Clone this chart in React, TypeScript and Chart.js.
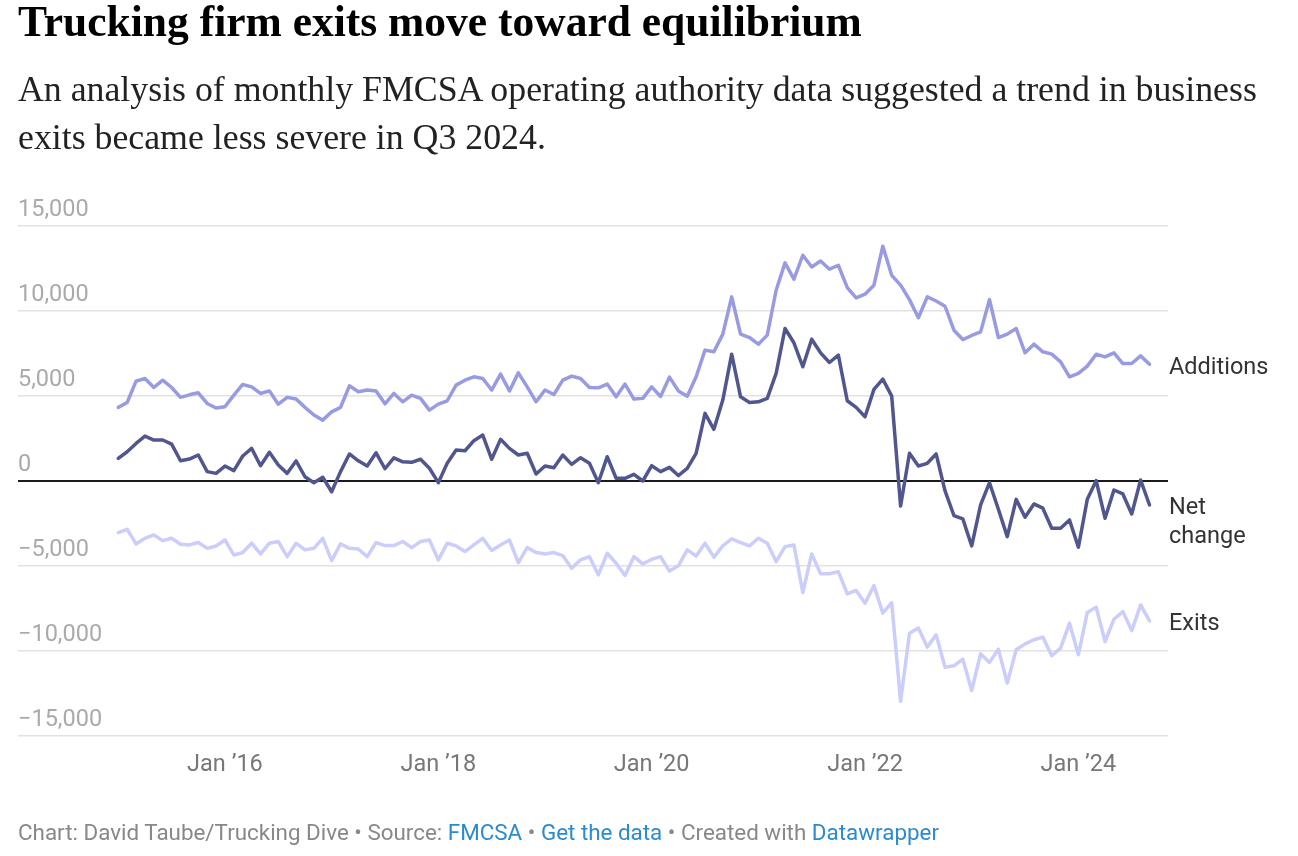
import React, { useEffect, useRef } from "react";
import { Chart, registerables } from "chart.js";

Chart.register(...registerables);

// Monthly series, Jan 2015 (index 0) through Sep 2024 (index 116)
const startMonth = "Jan 2015";

const additions = [
  4330, 4620, 5875, 6030, 5500, 5930, 5500, 4920, 5070, 5190, 4560, 4290,
  4370, 5050, 5680, 5540, 5150, 5300, 4520, 4920, 4820, 4330, 3880, 3580,
  4070, 4330, 5600, 5250, 5350, 5290, 4540, 5150, 4660, 5050, 4860, 4170,
  4520, 4720, 5640, 5930, 6130, 6030, 5350, 6290, 5300, 6360, 5540, 4660,
  5350, 5090, 5930, 6170, 6030, 5500, 5480, 5700, 4950, 5700, 4820, 4860,
  5540, 4970, 6110, 5300, 4990, 6130, 7700, 7600, 8640, 10830, 8640, 8440,
  8050, 8580, 11220, 12830, 11870, 13280, 12590, 12940, 12460, 12690, 11380, 10770,
  10990, 11520, 13810, 12100, 11520, 10670, 9600, 10830, 10590, 10280, 8870, 8320,
  8560, 8770, 10670, 8440, 8640, 8970, 7540, 8050, 7600, 7460, 7010, 6130,
  6330, 6760, 7460, 7300, 7540, 6910, 6910, 7360, 6870,
];

const netChange = [
  1330, 1720, 2210, 2640, 2410, 2410, 2170, 1190, 1290, 1530, 550, 450,
  880, 610, 1470, 1920, 900, 1690, 940, 450, 1180, 250, -100, 220,
  -630, 550, 1590, 1190, 880, 1660, 720, 1360, 1130, 1100, 1280, 750,
  -100, 1040, 1820, 1780, 2370, 2700, 1280, 2450, 1920, 1530, 1630, 410,
  880, 780, 1530, 980, 1370, 1040, -100, 1430, 160, 160, 390, 0,
  900, 550, 800, 320, 745, 1630, 3980, 3040, 4760, 7460, 4950, 4620,
  4660, 4860, 6330, 8970, 8130, 6720, 8340, 7540, 6970, 7400, 4720, 4330,
  3780, 5390, 5990, 4990, -1470, 1630, 880, 1040, 1590, -580, -2030, -2230,
  -3820, -1410, -100, -1660, -3270, -1080, -2130, -1350, -1600, -2780, -2780, -2290,
  -3900, -1080, 20, -2190, -530, -760, -1940, 60, -1410,
];

const exits = [
  -3040, -2840, -3700, -3370, -3170, -3510, -3370, -3720, -3760, -3620, -3960, -3820,
  -3470, -4350, -4210, -3660, -4290, -3660, -3560, -4450, -3660, -4050, -3960, -3370,
  -4680, -3700, -3960, -4000, -4450, -3620, -3800, -3800, -3560, -3920, -3560, -3470,
  -4640, -3660, -3820, -4150, -3760, -3370, -4090, -3760, -3470, -4800, -3920, -4210,
  -4290, -4210, -4390, -5130, -4640, -4450, -5520, -4250, -4840, -5560, -4450, -4880,
  -4600, -4450, -5300, -4990, -4050, -4410, -3660, -4480, -3820, -3410, -3620, -3820,
  -3370, -3660, -4740, -3860, -3760, -6560, -4290, -5460, -5460, -5330, -6640, -6440,
  -7190, -6150, -7770, -7150, -12960, -8950, -8650, -9770, -9050, -10960, -10870, -10480,
  -12320, -10160, -10670, -9890, -11890, -9930, -9580, -9340, -9180, -10280, -9830, -8360,
  -10220, -7740, -7420, -9440, -8130, -7680, -8800, -7290, -8230,
];

const xTickIndex = [12, 36, 60, 84, 108];
const xTickLabels = ["Jan \u201916", "Jan \u201918", "Jan \u201920", "Jan \u201922", "Jan \u201924"];
const yTicks = [-15000, -10000, -5000, 0, 5000, 10000, 15000];

const seriesNames = ["Net change", "Exits", "Additions"];
const seriesColors = ["#51568f", "#cbcdfa", "#989be2"];

const SANS = "Roboto, 'Noto Sans', sans-serif";
const SERIF = "'Liberation Serif', 'DejaVu Serif', serif";

function fmt(v: number): string {
  const s = Math.abs(v).toLocaleString("en-US");
  return v < 0 ? "\u2212" + s : s;
}

const endLabels = {
  id: "endLabels",
  afterDatasetsDraw(chart: any) {
    const { ctx, chartArea, scales } = chart;
    const y = scales.y;
    const x0 = chartArea.right + 1;
    ctx.save();
    ctx.fillStyle = "#333333";
    ctx.font = "23.5px " + SANS;
    ctx.textAlign = "left";
    ctx.textBaseline = "middle";
    const ya = y.getPixelForValue(additions[additions.length - 1]);
    ctx.fillText("Additions", x0, ya + 4);
    const yn = y.getPixelForValue(netChange[netChange.length - 1]);
    ctx.fillText("Net", x0, yn + 3);
    ctx.fillText("change", x0, yn + 32);
    const ye = y.getPixelForValue(exits[exits.length - 1]);
    ctx.fillText("Exits", x0, ye + 3);
    ctx.restore();
  },
};

export default function App() {
  const ref = useRef<HTMLCanvasElement | null>(null);

  useEffect(() => {
    if (!ref.current) return;
    const series = [netChange, exits, additions];
    const chart = new Chart(ref.current, {
      type: "line",
      data: {
        datasets: series.map((arr, k) => ({
          label: seriesNames[k],
          data: arr.map((v, i) => ({ x: i, y: v })),
          borderColor: seriesColors[k],
          backgroundColor: seriesColors[k],
          borderWidth: 3.5,
          pointRadius: 0,
          tension: 0,
          borderJoinStyle: "round" as const,
          borderCapStyle: "round" as const,
        })),
      },
      options: {
        animation: false,
        responsive: false,
        devicePixelRatio: 1,
        layout: { padding: { top: 46, left: 18, right: 130, bottom: 0 } },
        plugins: {
          legend: { display: false },
          tooltip: { enabled: false },
          title: { display: false },
        },
        scales: {
          x: {
            type: "linear",
            min: -11.28,
            max: 118.08,
            border: { display: false },
            grid: { display: false, drawTicks: false },
            afterBuildTicks: (scale: any) => {
              scale.ticks = xTickIndex.map((v) => ({ value: v }));
            },
            afterFit: (scale: any) => {
              scale.height = 54;
            },
            ticks: {
              padding: 15,
              color: "#777777",
              font: { family: SANS, size: 23.5 },
              maxRotation: 0,
              autoSkip: false,
              callback: (value: any) => {
                const idx = xTickIndex.indexOf(Number(value));
                return idx >= 0 ? xTickLabels[idx] : "";
              },
            },
          },
          y: {
            type: "linear",
            min: -15000,
            max: 15000,
            border: { display: false },
            afterBuildTicks: (scale: any) => {
              scale.ticks = yTicks.map((v) => ({ value: v }));
            },
            grid: {
              drawTicks: false,
              color: (c: any) => (c.tick && c.tick.value === 0 ? "#1a1a1a" : "#e2e2e2"),
              lineWidth: (c: any) => (c.tick && c.tick.value === 0 ? 2 : 1.5),
            },
            ticks: {
              mirror: true,
              padding: 0,
              labelOffset: -16,
              color: "#aaaaaa",
              font: { family: SANS, size: 23.5 },
              callback: (value: any) => fmt(Number(value)),
            },
          },
        },
      },
      plugins: [endLabels],
    });
    return () => chart.destroy();
  }, []);

  return (
    <div>
      <div
        style={{
          position: "fixed",
          left: 18,
          top: 0,
          fontFamily: SERIF,
          fontWeight: 700,
          fontSize: 43.5,
          lineHeight: "43px",
          color: "#000",
          whiteSpace: "nowrap",
        }}
      >
        Trucking firm exits move toward equilibrium
      </div>
      <div
        style={{
          position: "fixed",
          left: 18,
          top: 65,
          fontFamily: SERIF,
          fontSize: 35.8,
          lineHeight: "48px",
          color: "#222",
          whiteSpace: "nowrap",
        }}
      >
        An analysis of monthly FMCSA operating authority data suggested a trend in business
        <br />
        exits became less severe in Q3 2024.
      </div>
      <div style={{ position: "fixed", left: 0, top: 180, width: 1298, height: 610 }}>
        <canvas ref={ref} width={1298} height={610} style={{ width: 1298, height: 610, display: "block" }} />
      </div>
      <div
        style={{
          position: "fixed",
          left: 18,
          top: 820,
          fontFamily: SANS,
          fontSize: 22.4,
          lineHeight: "24px",
          color: "#888888",
          whiteSpace: "nowrap",
        }}
      >
        Chart: David Taube/Trucking Dive • Source: <span style={{ color: "#2a8bd0" }}>FMCSA</span> •{" "}
        <span style={{ color: "#2a8bd0" }}>Get the data</span> • Created with{" "}
        <span style={{ color: "#2a8bd0" }}>Datawrapper</span>
      </div>
    </div>
  );
}
